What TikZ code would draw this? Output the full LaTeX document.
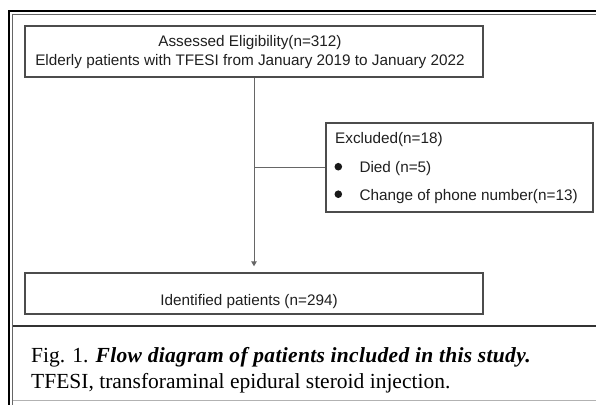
\documentclass[tikz,border=0pt]{standalone}
\usepackage{fontspec}
\setmainfont{Liberation Serif}
\setsansfont{Liberation Sans}
\usetikzlibrary{arrows.meta}
\begin{document}
\begin{tikzpicture}[x=1pt,y=-1pt,
  box/.style={draw=black!70, line width=1.4pt, inner sep=0pt},
  boxtext/.style={font=\sffamily\fontsize{15.3}{19.7}\selectfont, text=black!88, inner sep=0pt},
  conn/.style={draw=black!60, line width=1pt},
  bullet/.style={fill=black!90},
  captext/.style={font=\fontsize{21.5}{26}\selectfont, inner sep=0pt, anchor=base west}]
\useasboundingbox (0,0) rectangle (596,404);
\clip (0,0) rectangle (596,404);
% outer frame
\draw[line width=2pt] (8.5,420) -- (8.5,11) -- (610,11);
\draw[line width=0.8pt, black!60] (12.5,420) -- (12.5,14.5) -- (610,14.5);
\draw[line width=1.2pt, black!80] (12.5,326) -- (610,326);
\draw[line width=0.8pt, black!30] (12.5,400.5) -- (610,400.5);
% boxes
\node[box, minimum width=458pt, minimum height=51pt] (top) at (254,51.5) {};
\node[box, minimum width=458pt, minimum height=41pt] (bot) at (254,293.5) {};
\node[box, minimum width=267pt, minimum height=89pt] (exc) at (459.5,167.5) {};
% texts
\node[boxtext, anchor=base] (t1) at (250,46) {Assessed Eligibility(n=312)};
\node[boxtext, anchor=base] (t2) at (250,65.7) {Elderly patients with TFESI from January 2019 to January 2022};
\node[boxtext, anchor=base] (t3) at (249,305) {Identified patients (n=294)};
\node[boxtext, anchor=base west] (e1) at (335,143.3) {Excluded(n=18)};
\node[boxtext, anchor=base west] (e2) at (359.3,172) {Died (n=5)};
\node[boxtext, anchor=base west] (e3) at (359.3,200) {Change of phone number(n=13)};
\fill[bullet] (338.3,166.7) circle (3.8pt);
\fill[bullet] (338.3,194.2) circle (3.8pt);
% connectors
\draw[conn, -{Triangle[length=5pt,width=5.5pt]}, shorten >=6pt] (top.south) -- (bot.north);
\draw[conn] (exc.west -| top.south) -- (exc.west);
% caption
\node[captext] (c1) at (31,362.3) {Fig. 1. {\addfontfeature{LetterSpace=1.5}\textbf{\textit{Flow diagram of patients included in this study.}}}};
\node[captext] (c2) at (31,388.3) {TFESI, transforaminal epidural steroid injection.};
\end{tikzpicture}
\end{document}
